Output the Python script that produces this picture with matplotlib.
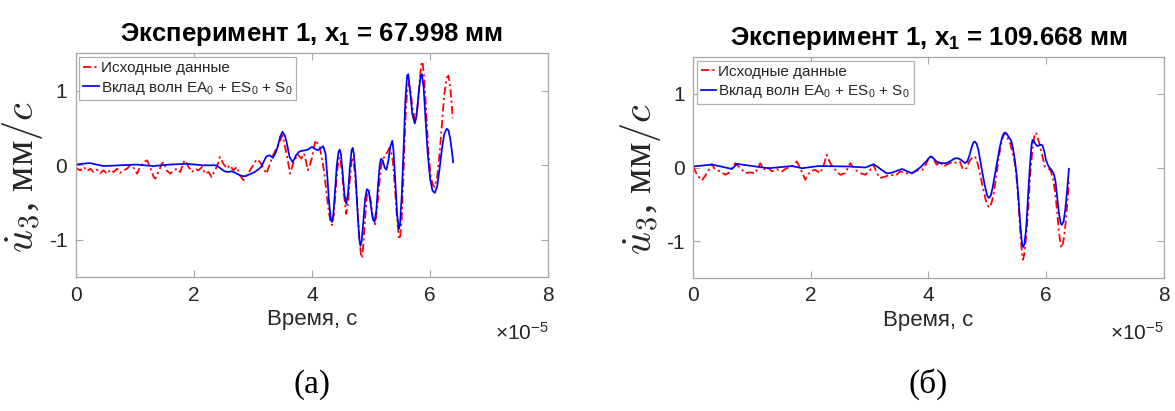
import matplotlib
matplotlib.use("Agg")
import matplotlib.pyplot as plt

plt.rcParams['font.family'] = ['Liberation Sans', 'DejaVu Sans']
plt.rcParams['mathtext.fontset'] = 'custom'
plt.rcParams['mathtext.rm'] = 'Liberation Sans'
plt.rcParams['mathtext.it'] = 'Liberation Sans:italic'
plt.rcParams['mathtext.bf'] = 'Liberation Sans:bold'

# ---------------- data (time in units of 1e-5 s, velocity in mm/s) ----------------
# Panel (а): x1 = 67.998 mm -- measured signal
t_raw_a = [0.00, 0.02, 0.08, 0.14, 0.19, 0.25, 0.30, 0.36, 0.42, 0.47, 0.53, 0.59, 0.64, 0.70,
           0.75, 0.81, 0.87, 0.92, 0.98, 1.04, 1.09, 1.15, 1.21, 1.26, 1.32, 1.35, 1.40, 1.46,
           1.49, 1.54, 1.60, 1.66, 1.71, 1.77, 1.83, 1.85, 1.91, 1.97, 2.02, 2.08, 2.14, 2.19,
           2.25, 2.30, 2.36, 2.42, 2.44, 2.50, 2.56, 2.61, 2.67, 2.73, 2.78, 2.84, 2.90, 2.97,
           3.06, 3.12, 3.17, 3.23, 3.28, 3.34, 3.42, 3.50, 3.57, 3.63, 3.69, 3.76, 3.82, 3.87,
           3.93, 3.99, 4.06, 4.13, 4.17, 4.21, 4.25, 4.29, 4.32, 4.34, 4.37, 4.40, 4.43, 4.46,
           4.48, 4.51, 4.55, 4.58, 4.61, 4.64, 4.67, 4.69, 4.72, 4.76, 4.80, 4.83, 4.85, 4.87,
           4.90, 4.93, 4.96, 4.99, 5.03, 5.07, 5.10, 5.14, 5.17, 5.20, 5.24, 5.28, 5.31, 5.34,
           5.37, 5.40, 5.44, 5.47, 5.49, 5.52, 5.55, 5.58, 5.61, 5.64, 5.67, 5.71, 5.75, 5.79,
           5.82, 5.85, 5.87, 5.90, 5.93, 5.97, 6.01, 6.05, 6.08, 6.12, 6.16, 6.20, 6.24, 6.28,
           6.31, 6.34, 6.37, 6.38]
v_raw_a = [-0.02, -0.045, -0.067, -0.022, -0.076, -0.045, -0.09, -0.058, -0.103, -0.067, -0.112,
           -0.058, -0.09, -0.045, -0.103, -0.067, -0.045, 0.0, -0.031, -0.112, -0.022, 0.045,
           0.067, -0.022, -0.157, -0.179, -0.09, 0.022, 0.045, -0.067, -0.112, -0.067, -0.045,
           -0.09, 0.045, 0.067, -0.022, -0.09, -0.045, -0.067, -0.022, -0.112, -0.09, -0.157,
           -0.067, 0.045, 0.112, 0.022, -0.045, 0.0, -0.067, -0.022, -0.134, -0.2, -0.134,
           -0.045, 0.077, 0.045, -0.022, -0.112, 0.0, 0.135, 0.256, 0.404, 0.157, -0.112, 0.045,
           0.148, 0.09, 0.157, -0.067, 0.067, 0.337, 0.247, 0.08, -0.10, -0.40, -0.65, -0.78,
           -0.80, -0.65, -0.35, -0.05, 0.10, 0.10, -0.10, -0.45, -0.65, -0.50, -0.20, 0.05, 0.11,
           -0.05, -0.45, -0.95, -1.20, -1.24, -1.05, -0.70, -0.40, -0.34, -0.45, -0.70, -0.79,
           -0.60, -0.25, -0.02, 0.08, 0.13, 0.18, 0.23, 0.18, 0.05, -0.25, -0.70, -0.95, -0.99,
           -0.70, -0.10, 0.60, 0.98, 1.10, 0.98, 0.72, 0.61, 0.80, 1.10, 1.35, 1.39, 1.18, 0.75,
           0.20, -0.15, -0.27, -0.29, -0.15, 0.15, 0.55, 0.95, 1.17, 1.20, 1.05, 0.78, 0.63]
# Panel (а): contribution of EA0 + ES0 + S0 waves
t_fit_a = [0.00, 0.24, 0.47, 0.75, 1.03, 1.31, 1.59, 1.88, 2.16, 2.38, 2.45, 2.52, 2.58, 2.64,
           2.70, 2.78, 2.85, 2.92, 3.03, 3.10, 3.14, 3.19, 3.23, 3.28, 3.34, 3.38, 3.42, 3.46,
           3.50, 3.54, 3.57, 3.62, 3.67, 3.70, 3.73, 3.78, 3.82, 3.88, 3.93, 4.00, 4.05, 4.10,
           4.15, 4.19, 4.23, 4.26, 4.29, 4.32, 4.34, 4.36, 4.39, 4.42, 4.45, 4.47, 4.49, 4.52,
           4.55, 4.58, 4.61, 4.64, 4.67, 4.69, 4.71, 4.74, 4.77, 4.80, 4.82, 4.84, 4.87, 4.90,
           4.93, 4.96, 4.99, 5.03, 5.06, 5.09, 5.12, 5.15, 5.17, 5.20, 5.23, 5.26, 5.29, 5.33,
           5.36, 5.38, 5.41, 5.44, 5.47, 5.49, 5.52, 5.55, 5.58, 5.61, 5.63, 5.66, 5.70, 5.74,
           5.77, 5.81, 5.84, 5.86, 5.89, 5.92, 5.96, 6.00, 6.04, 6.08, 6.12, 6.16, 6.20, 6.24,
           6.28, 6.31, 6.34, 6.37, 6.39]
v_fit_a = [0.01, 0.03, -0.01, 0.0, 0.01, -0.01, 0.01, 0.02, 0.0, 0.0, -0.04, -0.08, -0.09,
           -0.08, -0.10, -0.134, -0.148, -0.13, -0.09, -0.05, -0.022, 0.06, 0.12, 0.135, 0.10,
           0.16, 0.247, 0.38, 0.449, 0.40, 0.314, 0.113, 0.045, 0.08, 0.135, 0.18, 0.193, 0.20,
           0.21, 0.247, 0.22, 0.202, 0.23, 0.256, 0.157, -0.15, -0.50, -0.72, -0.76, -0.68,
           -0.35, 0.0, 0.18, 0.21, 0.15, -0.10, -0.40, -0.516, -0.38, -0.05, 0.20, 0.233, 0.15,
           -0.15, -0.60, -0.98, -1.08, -1.02, -0.75, -0.45, -0.32, -0.34, -0.50, -0.72, -0.76,
           -0.60, -0.25, 0.02, 0.09, 0.06, -0.03, -0.06, 0.05, 0.26, 0.328, 0.20, -0.20, -0.65,
           -0.85, -0.80, -0.40, 0.20, 0.85, 1.20, 1.22, 1.00, 0.68, 0.56, 0.66, 1.00, 1.20, 1.22,
           1.05, 0.65, 0.15, -0.18, -0.34, -0.37, -0.28, -0.05, 0.22, 0.42, 0.49, 0.47, 0.36,
           0.18, 0.04]

# Panel (б): x1 = 109.668 mm -- measured signal
t_raw_b = [0.00, 0.063, 0.148, 0.233, 0.318, 0.375, 0.46, 0.545, 0.60, 0.715, 0.80, 0.885,
           0.97, 1.055, 1.14, 1.20, 1.25, 1.34, 1.42, 1.51, 1.59, 1.68, 1.76, 1.82, 1.905,
           1.99, 2.075, 2.16, 2.22, 2.27, 2.33, 2.415, 2.50, 2.585, 2.67, 2.755, 2.84, 2.93,
           3.01, 3.07, 3.12, 3.18, 3.27, 3.35, 3.44, 3.52, 3.61, 3.69, 3.78, 3.86, 3.90, 3.95,
           4.00, 4.025, 4.08, 4.14, 4.195, 4.25, 4.31, 4.365, 4.42, 4.48, 4.535, 4.59, 4.65,
           4.70, 4.75, 4.79, 4.82, 4.86, 4.90, 4.94, 4.98, 5.02, 5.045, 5.08, 5.11, 5.15, 5.19,
           5.23, 5.27, 5.30, 5.33, 5.36, 5.39, 5.43, 5.47, 5.50, 5.53, 5.56, 5.59, 5.61, 5.63,
           5.66, 5.70, 5.73, 5.77, 5.80, 5.83, 5.86, 5.90, 5.94, 5.98, 6.03, 6.07, 6.11, 6.15,
           6.19, 6.22, 6.25, 6.265, 6.29, 6.31, 6.34, 6.37, 6.39]
v_raw_b = [0.014, -0.099, -0.175, -0.076, 0.046, -0.031, -0.053, -0.099, -0.076, 0.059,
           -0.008, -0.076, -0.067, -0.076, 0.059, -0.031, 0.014, -0.053, -0.022, -0.053, -0.008,
           0.014, 0.082, -0.008, -0.166, -0.053, -0.031, -0.076, 0.037, 0.172, 0.059, -0.031,
           -0.099, -0.076, 0.059, -0.031, -0.076, -0.099, -0.031, 0.037, -0.076, -0.144, -0.121,
           -0.099, -0.112, -0.053, -0.076, -0.085, -0.053, -0.022, -0.03, 0.03, 0.12, 0.15,
           0.127, 0.037, 0.08, 0.014, 0.037, 0.06, 0.08, 0.06, 0.08, -0.03, -0.008, 0.09, 0.14,
           0.15, 0.104, -0.02, -0.17, -0.32, -0.46, -0.53, -0.54, -0.46, -0.35, -0.15, 0.10,
           0.30, 0.42, 0.465, 0.43, 0.37, 0.33, 0.20, 0.06, -0.15, -0.45, -0.85, -1.15, -1.25,
           -1.18, -0.95, -0.55, -0.10, 0.25, 0.42, 0.475, 0.40, 0.285, 0.15, 0.014, -0.01, -0.03,
           -0.12, -0.30, -0.60, -0.88, -1.05, -1.09, -1.02, -0.93, -0.70, -0.40, -0.17]
# Panel (б): contribution of EA0 + ES0 + S0 waves
t_fit_b = [0.00, 0.32, 0.66, 0.74, 1.00, 1.28, 1.68, 1.85, 2.13, 2.64, 2.93, 3.07, 3.29,
           3.38, 3.55, 3.72, 3.86, 3.91, 3.97, 4.02, 4.05, 4.09, 4.14, 4.21, 4.31, 4.38, 4.44,
           4.48, 4.52, 4.56, 4.62, 4.66, 4.70, 4.74, 4.77, 4.79, 4.82, 4.85, 4.88, 4.92, 4.96,
           5.00, 5.03, 5.06, 5.09, 5.13, 5.17, 5.21, 5.25, 5.28, 5.30, 5.33, 5.37, 5.41, 5.44,
           5.47, 5.50, 5.53, 5.56, 5.59, 5.61, 5.63, 5.66, 5.69, 5.72, 5.75, 5.77, 5.79, 5.82,
           5.85, 5.88, 5.91, 5.94, 5.97, 6.00, 6.04, 6.09, 6.13, 6.16, 6.19, 6.22, 6.25, 6.27,
           6.30, 6.33, 6.36, 6.39]
v_fit_b = [0.014, 0.04, -0.02, 0.05, 0.02, -0.01, 0.02, -0.01, 0.02, 0.014, 0.0, 0.045,
           -0.08, -0.07, -0.02, -0.08, 0.0, 0.04, 0.09, 0.14, 0.15, 0.12, 0.08, 0.06, 0.06, 0.09,
           0.12, 0.127, 0.12, 0.10, 0.06, 0.08, 0.17, 0.29, 0.345, 0.353, 0.32, 0.24, 0.10,
           -0.08, -0.25, -0.38, -0.415, -0.38, -0.28, -0.10, 0.08, 0.26, 0.40, 0.46, 0.475, 0.46,
           0.41, 0.36, 0.25, 0.10, -0.10, -0.40, -0.75, -1.02, -1.08, -1.05, -0.85, -0.45, -0.05,
           0.28, 0.375, 0.36, 0.32, 0.29, 0.30, 0.31, 0.30, 0.22, 0.10, 0.02, -0.03, -0.08, -0.18,
           -0.40, -0.62, -0.76, -0.78, -0.73, -0.55, -0.30, -0.017]

titles = ['Эксперимент 1, x$_\\mathbf{1}$ = 67.998 мм',
          'Эксперимент 1, x$_\\mathbf{1}$ = 109.668 мм']
panel_tags = ['(а)', '(б)']
legend_labels = ['Исходные данные', 'Вклад волн EA$_0$ + ES$_0$ + S$_0$']
xlabel = 'Время, с'
ylabel = r'$\dot{u}_3$, мм$/c$'
xticks = [0, 2, 4, 6, 8]
yticks = [-1, 0, 1]

panels = [(t_raw_a, v_raw_a, t_fit_a, v_fit_a), (t_raw_b, v_raw_b, t_fit_b, v_fit_b)]

# ---------------- figure ----------------
fig = plt.figure(figsize=(11.75, 4.11), dpi=100)
rects = [[0.0644, 0.3253, 0.4022, 0.545], [0.5900, 0.3236, 0.4003, 0.5377]]
spine_col = '#a6a6a6'
txt_col = '#262626'

for i, (rect, (tr, vr, tf, vf)) in enumerate(zip(rects, panels)):
    ax = fig.add_axes(rect)
    ax.plot(tr, vr, color='#ff0000', linestyle=(0, (4.5, 1.8, 1.2, 1.8)), linewidth=1.3,
            label=legend_labels[0])
    ax.plot(tf, vf, color='#0000ff', linestyle='-', linewidth=1.25, label=legend_labels[1])
    ax.set_xlim(0, 8)
    ax.set_ylim(-1.5, 1.5)
    ax.set_xticks(xticks)
    ax.set_yticks(yticks)
    ax.set_xticklabels([str(x) for x in xticks])
    ax.set_yticklabels([str(y) for y in yticks])
    ax.tick_params(direction='in', length=5, width=0.8, colors=spine_col,
                   labelcolor=txt_col, labelsize=15, top=True, right=True, pad=6)
    for s in ax.spines.values():
        s.set_color(spine_col)
        s.set_linewidth(0.9)
    ax.set_title(titles[i], fontsize=18.5, fontweight='bold', color='black', pad=9)
    ax.set_xlabel(xlabel, fontsize=16, color=txt_col, labelpad=3)
    ax.set_ylabel(ylabel, fontsize=29, color=txt_col, family='Liberation Serif',
                  math_fontfamily='cm')
    ax.yaxis.set_label_coords(-0.064, 0.45)
    leg = ax.legend(loc='upper left', fontsize=11, frameon=True, fancybox=False,
                    handlelength=1.0, handletextpad=0.15, borderpad=0.25,
                    labelspacing=0.3, borderaxespad=0.25, framealpha=1)
    leg.get_frame().set_edgecolor('#b0b0b0')
    leg.get_frame().set_linewidth(0.9)
    for t in leg.get_texts():
        t.set_color(txt_col)
    ax.text(1.0, -0.2, r'$\times10^{-5}$', transform=ax.transAxes, ha='right', va='top',
            fontsize=15, color=txt_col)
    fig.text(rect[0] + rect[2] / 2, 0.065, panel_tags[i], ha='center', va='center',
             fontsize=24, family='Liberation Serif', color='black')

fig.savefig('out.png', dpi=100, facecolor='white')
